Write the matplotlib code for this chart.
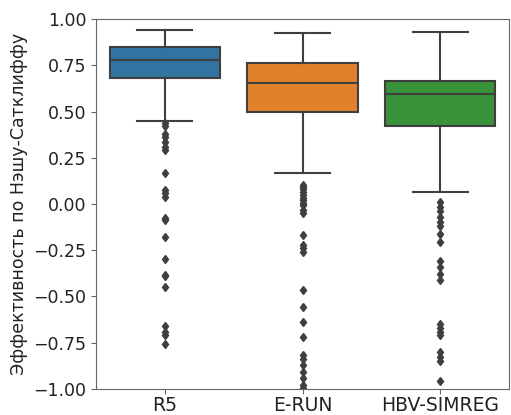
import matplotlib
matplotlib.use("Agg")
import matplotlib.pyplot as plt

models = ["R5", "E-RUN", "HBV-SIMREG"]
colors = ["#3274a1", "#e1812c", "#3a923a"]

# box statistics
q1 = [0.68, 0.50, 0.42]
med = [0.78, 0.655, 0.595]
q3 = [0.85, 0.76, 0.665]
whislo = [0.45, 0.17, 0.065]
whishi = [0.94, 0.925, 0.93]

fliers_r5 = [0.44, 0.42, 0.38, 0.36, 0.335, 0.31, 0.29, 0.17, 0.075, 0.06, 0.04,
             -0.077, -0.085, -0.18, -0.30, -0.385, -0.39, -0.45, -0.66, -0.69,
             -0.71, -0.76]
fliers_erun = [0.10, 0.09, 0.08, 0.065, 0.05, 0.035, 0.02, 0.005, -0.005, -0.03,
               -0.05, -0.17, -0.22, -0.24, -0.26, -0.465, -0.555, -0.64, -0.72,
               -0.815, -0.84, -0.87, -0.91, -0.94, -0.98, -0.995]
fliers_hbv = [0.01, -0.015, -0.04, -0.07, -0.095, -0.12, -0.16, -0.205, -0.31,
              -0.34, -0.38, -0.41, -0.65, -0.67, -0.69, -0.71, -0.80, -0.825,
              -0.85, -0.96]
fliers = [fliers_r5, fliers_erun, fliers_hbv]

stats = []
for i in range(len(models)):
	stats.append(dict(label=models[i], q1=q1[i], med=med[i], q3=q3[i],
	                  whislo=whislo[i], whishi=whishi[i], fliers=fliers[i]))

fig = plt.figure(figsize=(5.11, 4.15), dpi=100)
ax = fig.add_axes([0.188, 0.063, 0.808, 0.891])

line = "#3f3f3f"
bp = ax.bxp(stats, positions=range(len(models)), widths=0.8, patch_artist=True,
            boxprops=dict(edgecolor=line, linewidth=1.5),
            medianprops=dict(color=line, linewidth=1.5),
            whiskerprops=dict(color=line, linewidth=1.5),
            capprops=dict(color=line, linewidth=1.5),
            flierprops=dict(marker="d", markersize=4.5, markerfacecolor=line,
                            markeredgecolor=line, linestyle="none"))
for patch, c in zip(bp["boxes"], colors):
	patch.set_facecolor(c)

ax.set_xlim(-0.5, 2.5)
ax.set_ylim(-1.0, 1.0)
ax.set_yticks([-1.0, -0.75, -0.5, -0.25, 0.0, 0.25, 0.5, 0.75, 1.0])
for s in ax.spines.values():
	s.set_color("#666666")
ax.tick_params(colors="#666666", labelcolor="#222222")
ax.tick_params(axis="y", labelsize=12.5)
ax.tick_params(axis="x", labelsize=13.5, pad=2)
ax.set_ylabel("Эффективность по Нэшу-Сатклиффу", fontsize=12.5, color="#222222")

fig.savefig("out.png", dpi=100)
